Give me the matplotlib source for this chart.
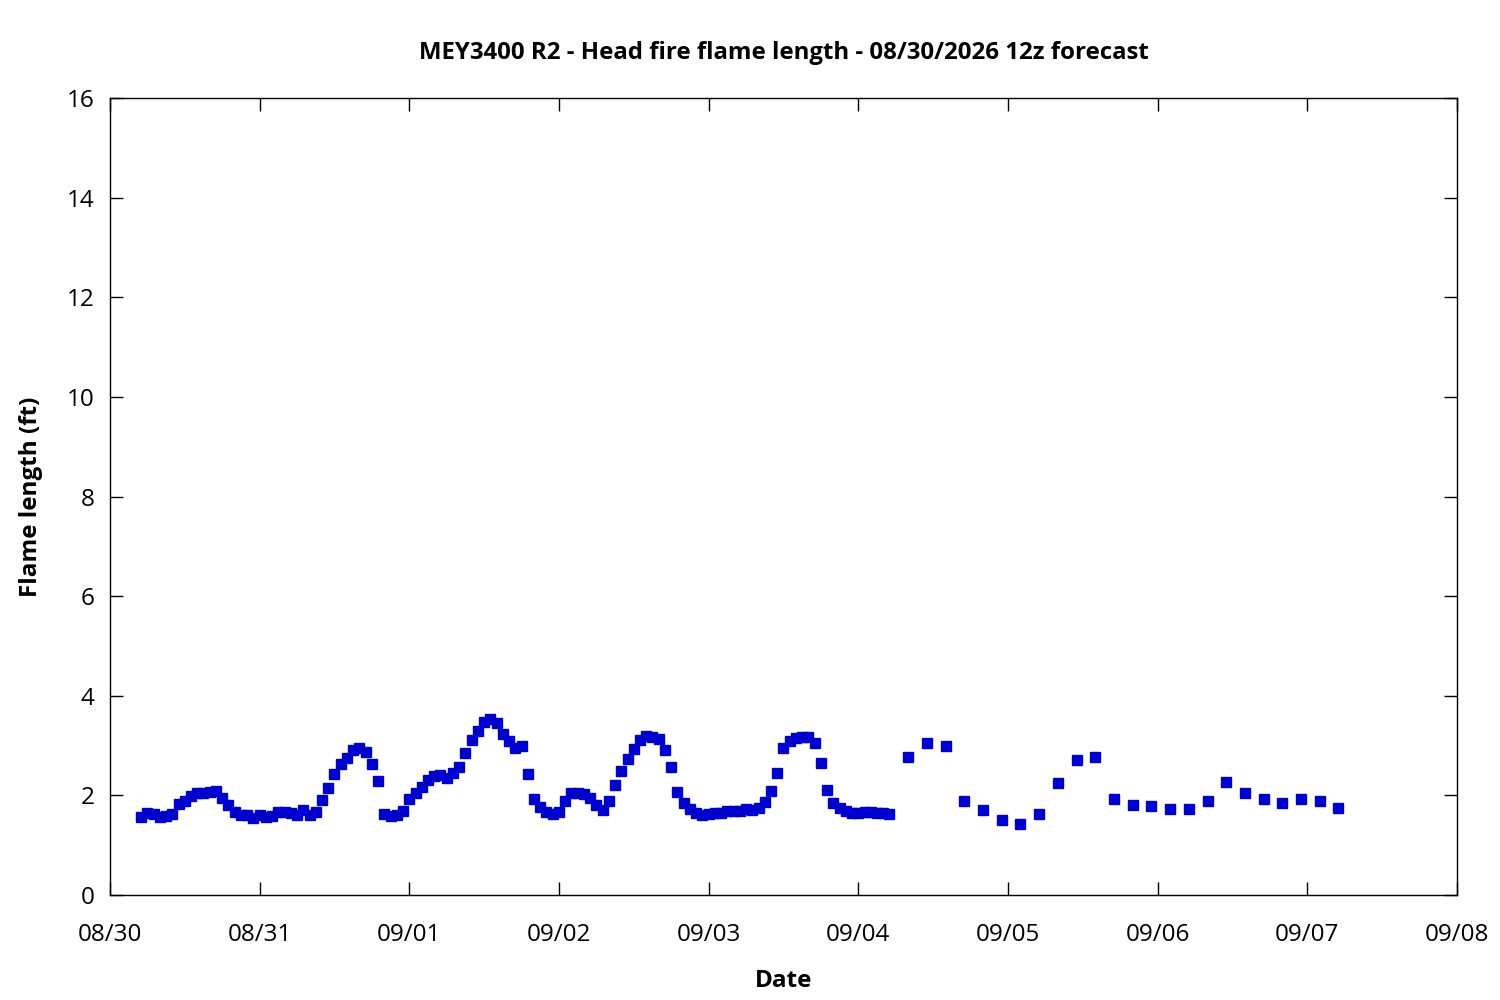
import numpy as np
import pandas as pd
import matplotlib
matplotlib.use("Agg")
import matplotlib.pyplot as plt
import matplotlib.dates as mdates

plt.rcParams['font.family'] = ['Open Sans', 'DejaVu Sans']

# hourly forecast 08/30 05:00 .. 09/04 05:00
hourly_start = "2026-08-30 05:00"
hourly_flame = [
    1.56, 1.64, 1.62, 1.56, 1.59, 1.62, 1.82, 1.88, 1.98, 2.04, 2.04, 2.06,
    2.09, 1.94, 1.81, 1.66, 1.60, 1.60, 1.54, 1.61, 1.56, 1.59, 1.66, 1.66,
    1.64, 1.61, 1.71, 1.60, 1.66, 1.91, 2.14, 2.42, 2.62, 2.76, 2.91, 2.95,
    2.87, 2.62, 2.29, 1.62, 1.58, 1.61, 1.69, 1.92, 2.04, 2.16, 2.31, 2.39,
    2.41, 2.34, 2.44, 2.56, 2.85, 3.11, 3.29, 3.47, 3.54, 3.45, 3.23, 3.09,
    2.95, 2.99, 2.42, 1.92, 1.76, 1.66, 1.63, 1.66, 1.88, 2.04, 2.04, 2.02,
    1.94, 1.80, 1.70, 1.88, 2.20, 2.48, 2.74, 2.93, 3.11, 3.19, 3.17, 3.13,
    2.91, 2.56, 2.06, 1.84, 1.72, 1.64, 1.60, 1.62, 1.64, 1.64, 1.68, 1.68,
    1.68, 1.72, 1.70, 1.74, 1.86, 2.08, 2.44, 2.95, 3.09, 3.15, 3.17, 3.17,
    3.05, 2.64, 2.10, 1.84, 1.74, 1.68, 1.64, 1.64, 1.66, 1.66, 1.64, 1.64,
    1.62,
]

# 3-hourly forecast 09/04 08:00 .. 09/07 05:00
threehr_start = "2026-09-04 08:00"
threehr_flame = [
    2.78, 3.05, 2.99, 1.88, 1.70, 1.50, 1.42, 1.62, 2.24, 2.72, 2.78, 1.92,
    1.80, 1.78, 1.72, 1.72, 1.88, 2.26, 2.04, 1.92, 1.84, 1.92, 1.88, 1.74,
]

t1 = pd.date_range(hourly_start, periods=len(hourly_flame), freq="h")
t2 = pd.date_range(threehr_start, periods=len(threehr_flame), freq="3h")
times = t1.append(t2)
flame = np.array(hourly_flame + threehr_flame)

fig = plt.figure(figsize=(15, 10), dpi=100)
ax = fig.add_axes([0.0733, 0.105, 0.898, 0.797])

ax.plot(times, flame, linestyle="none", marker="s", markersize=6.5,
        color="#0000cc")

ax.set_xlim(pd.Timestamp("2026-08-30"), pd.Timestamp("2026-09-08"))
ax.set_ylim(0, 16)
ax.set_yticks(np.arange(0, 17, 2))
ax.xaxis.set_major_locator(mdates.DayLocator())
ax.xaxis.set_major_formatter(mdates.DateFormatter("%m/%d"))

ax.tick_params(direction="in", top=True, right=True, length=9.5, width=1,
               labelsize=17.5)
ax.tick_params(axis="x", pad=20)
ax.tick_params(axis="y", pad=11)
for s in ax.spines.values():
    s.set_linewidth(1)

ax.set_title("MEY3400 R2 - Head fire flame length - 08/30/2026 12z forecast",
             fontsize=17.3, fontweight="bold", pad=28)
ax.set_xlabel("Date", fontsize=17.5, fontweight="bold", labelpad=16)
ax.set_ylabel("Flame length (ft)", fontsize=17.5, fontweight="bold", labelpad=17)

fig.savefig("out.png", dpi=100)
